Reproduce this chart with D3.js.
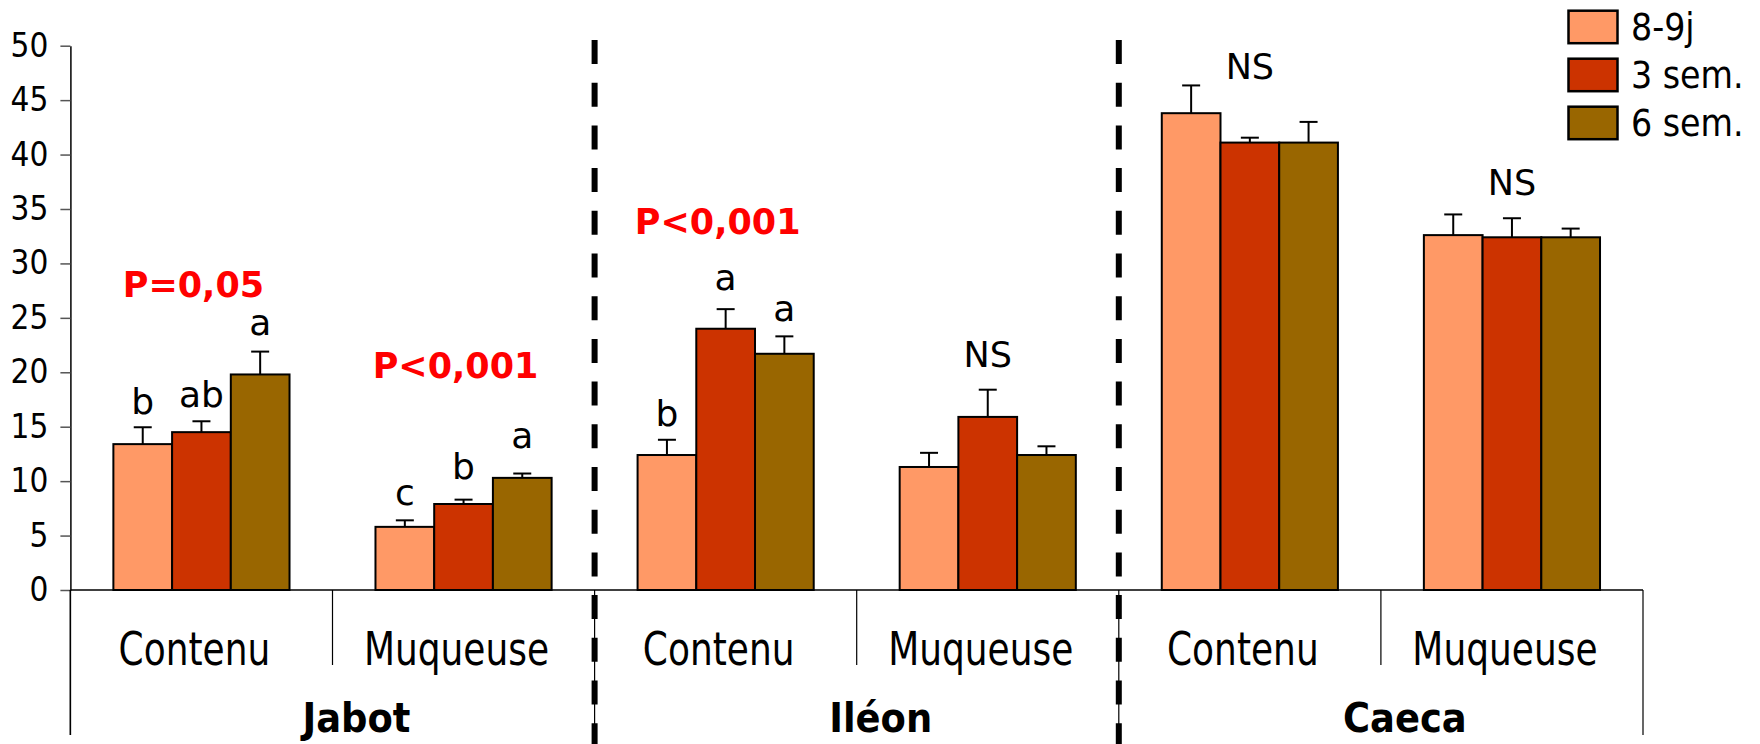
<!DOCTYPE html>
<html>
<head>
<meta charset="utf-8">
<script src="https://cdn.jsdelivr.net/npm/d3@7"></script>
<style>
  html, body { margin: 0; padding: 0; background: #fff; }
  svg { display: block; }
  text { font-family: "DejaVu Sans Condensed", "DejaVu Sans", sans-serif; font-stretch: condensed; }
  text.wide { font-family: "DejaVu Sans", sans-serif; font-stretch: normal; }
</style>
</head>
<body>
<svg id="chart" width="1760" height="744"></svg>
<script>
// ---------- data ----------
const groups = ["Jabot", "Iléon", "Caeca"];
const categories = ["Contenu", "Muqueuse", "Contenu", "Muqueuse", "Contenu", "Muqueuse"];
const categoryGroup = [0, 0, 1, 1, 2, 2];
const series = ["8-9j", "3 sem.", "6 sem."];
const colors = ["#FF9966", "#CC3300", "#996600"];

const values8_9j = [13.4, 5.8, 12.4, 11.3, 43.8, 32.6];
const values3sem = [14.5, 7.9, 24.0, 15.9, 41.1, 32.4];
const values6sem = [19.8, 10.3, 21.7, 12.4, 41.1, 32.4];

const errors8_9j = [1.55, 0.6, 1.4, 1.3, 2.55, 1.9];
const errors3sem = [1.0, 0.4, 1.8, 2.5, 0.45, 1.75];
const errors6sem = [2.1, 0.4, 1.6, 0.8, 1.9, 0.8];

// significance letters above bars and their baseline (in value units)
const letters8_9j = ["b", "c", "b", "", "", ""];
const letters3sem = ["ab", "b", "a", "", "", ""];
const letters6sem = ["a", "a", "a", "", "", ""];
const letterY8_9j = [16.2, 7.8, 15.1, 0, 0, 0];
const letterY3sem = [16.8, 10.2, 27.6, 0, 0, 0];
const letterY6sem = [23.4, 13.0, 24.7, 0, 0, 0];

// P-value labels (red) per category
const pCategory = [0, 1, 2];
const pText = ["P=0,05", "P<0,001", "P<0,001"];
const pY = [26.9, 19.45, 32.7];

// NS labels per category
const nsCategory = [3, 4, 5];
const nsY = [20.45, 46.9, 36.3];

const yTicks = [0, 5, 10, 15, 20, 25, 30, 35, 40, 45, 50];

// ---------- layout ----------
const svg = d3.select("#chart");
const plotLeft = 70.4, plotRight = 1643, y0 = 590, yTop = 45.7;

const x = d3.scaleBand().domain(d3.range(categories.length)).range([plotLeft, plotRight]).paddingInner(0).paddingOuter(0);
const bw = x.bandwidth();
const xs = d3.scaleBand().domain(series).range([0, bw]).paddingInner(0).paddingOuter(0.732);
const y = d3.scaleLinear().domain([0, 50]).range([y0, yTop]);

const valuesBySeries = [values8_9j, values3sem, values6sem];
const errorsBySeries = [errors8_9j, errors3sem, errors6sem];
const lettersBySeries = [letters8_9j, letters3sem, letters6sem];
const letterYBySeries = [letterY8_9j, letterY3sem, letterY6sem];

// helper: squeeze text horizontally
function squeeze(sel, f) {
  sel.each(function () {
    const len = this.getComputedTextLength();
    d3.select(this).attr("textLength", len * f).attr("lengthAdjust", "spacingAndGlyphs");
  });
}

// ---------- y axis ----------
const yAxis = d3.axisLeft(y).tickValues(yTicks).tickSize(10).tickSizeOuter(0).tickPadding(12);
const gy = svg.append("g").attr("transform", `translate(${plotLeft},0)`).call(yAxis);
gy.select(".domain").attr("stroke", "#000").attr("stroke-width", 1.5);
gy.selectAll(".tick line").attr("stroke", "#555").attr("stroke-width", 1.5);
gy.selectAll(".tick text")
  .style("font-family", '"DejaVu Sans Condensed", "DejaVu Sans", sans-serif')
  .style("font-size", "33px").attr("fill", "#000");

// extension of the y axis down through the label area
svg.append("line").attr("x1", plotLeft).attr("x2", plotLeft).attr("y1", y0).attr("y2", 735)
  .attr("stroke", "#000").attr("stroke-width", 1.5);

// ---------- bars ----------
series.forEach((s, si) => {
  const g = svg.append("g");
  g.selectAll("rect").data(valuesBySeries[si]).join("rect")
    .attr("x", (d, i) => x(i) + xs(s))
    .attr("y", d => y(d))
    .attr("width", xs.bandwidth())
    .attr("height", d => y(0) - y(d))
    .attr("fill", colors[si])
    .attr("stroke", "#000").attr("stroke-width", 2);
});

// ---------- error bars (upper only) ----------
series.forEach((s, si) => {
  const g = svg.append("g").attr("stroke", "#000").attr("stroke-width", 2);
  valuesBySeries[si].forEach((v, i) => {
    const cx = x(i) + xs(s) + xs.bandwidth() / 2;
    const top = y(v + errorsBySeries[si][i]);
    g.append("line").attr("x1", cx).attr("x2", cx).attr("y1", y(v)).attr("y2", top);
    g.append("line").attr("x1", cx - 9).attr("x2", cx + 9).attr("y1", top).attr("y2", top);
  });
});

// ---------- x axis ----------
svg.append("line").attr("x1", plotLeft).attr("x2", plotRight).attr("y1", y0).attr("y2", y0)
  .attr("stroke", "#000").attr("stroke-width", 1.5);
// category separators
d3.range(categories.length + 1).forEach(i => {
  const xx = i < categories.length ? x(i) : plotRight;
  const isGroupEdge = (i === 0 || i === categories.length || categoryGroup[i] !== categoryGroup[i - 1]);
  svg.append("line").attr("x1", xx).attr("x2", xx).attr("y1", y0).attr("y2", isGroupEdge ? 735 : 665)
    .attr("stroke", "#000").attr("stroke-width", 1.2);
});

// category labels
const catText = svg.append("g").selectAll("text").data(categories).join("text")
  .attr("x", (d, i) => x(i) + bw / 2 - 7)
  .attr("y", 665)
  .attr("text-anchor", "middle")
  .style("font-size", "47px")
  .attr("fill", "#000")
  .text(d => d);
squeeze(catText, 0.85);

// group labels
groups.forEach((gname, gi) => {
  const idx = categoryGroup.map((g, i) => g === gi ? i : -1).filter(i => i >= 0);
  const gx0 = x(idx[0]), gx1 = x(idx[idx.length - 1]) + bw;
  svg.append("text").attr("x", (gx0 + gx1) / 2 + 24).attr("y", 732)
    .attr("text-anchor", "middle").style("font-size", "41px").style("font-weight", "bold")
    .attr("fill", "#000").text(gname);
});

// dashed group dividers
groups.slice(1).forEach((gname, gi) => {
  const first = categoryGroup.indexOf(gi + 1);
  const xx = x(first);
  svg.append("line").attr("x1", xx).attr("x2", xx).attr("y1", 40).attr("y2", 744)
    .attr("stroke", "#000").attr("stroke-width", 6).attr("stroke-dasharray", "24 18.7");
});

// ---------- annotation letters ----------
series.forEach((s, si) => {
  lettersBySeries[si].forEach((t, i) => {
    if (!t) return;
    svg.append("text").attr("class", "wide")
      .attr("x", x(i) + xs(s) + xs.bandwidth() / 2).attr("y", y(letterYBySeries[si][i]))
      .attr("text-anchor", "middle").style("font-size", "36px").attr("fill", "#000").text(t);
  });
});

// NS labels
nsCategory.forEach((c, k) => {
  svg.append("text").attr("class", "wide").attr("x", x(c) + bw / 2).attr("y", y(nsY[k]))
    .attr("text-anchor", "middle").style("font-size", "35px").attr("fill", "#000").text("NS");
});

// P labels
pCategory.forEach((c, k) => {
  svg.append("text").attr("class", "wide").attr("x", x(c) + bw / 2 - 8).attr("y", y(pY[k]))
    .attr("text-anchor", "middle").style("font-size", "35px").style("font-weight", "bold")
    .attr("fill", "#FF0000").text(pText[k]);
});

// ---------- legend ----------
const legend = svg.append("g");
series.forEach((s, si) => {
  const top = 10.7 + si * 48;
  legend.append("rect").attr("x", 1568.5).attr("y", top).attr("width", 49).attr("height", 32.5)
    .attr("fill", colors[si]).attr("stroke", "#000").attr("stroke-width", 2.5);
  legend.append("text").attr("x", 1631).attr("y", top + 29)
    .style("font-size", "37px").attr("fill", "#000").text(s);
});
</script>
</body>
</html>
